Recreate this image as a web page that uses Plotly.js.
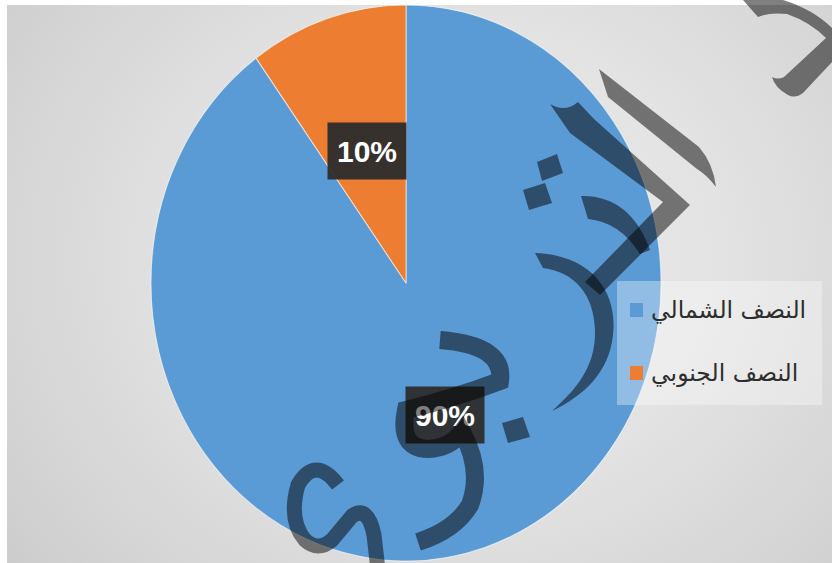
<!DOCTYPE html>
<html>
<head>
<meta charset="utf-8">
<script src="https://cdn.plot.ly/plotly-3.0.1.min.js"></script>
<style>
  html, body { margin:0; padding:0; background:#fff; }
  #wrap { position:relative; width:832px; height:563px; overflow:hidden; background:#fff; }
  #bg { position:absolute; left:7px; top:5px; width:825px; height:558px;
        background: radial-gradient(ellipse 70% 90% at 55% 45%, #ebebeb 0%, #e3e3e3 45%, #d3d3d3 85%, #cccccc 100%); }
  #chart { position:absolute; left:0; top:0; width:832px; height:563px; }
</style>
</head>
<body>
<div id="wrap"><div id="bg"></div><div id="chart"></div></div>
<script>
// ---- data ----
const categories = ['النصف الشمالي', 'النصف الجنوبي'];
const values = [90, 10];
const colors = ['#5b9bd5', '#ed7d31'];

// ---- geometry (pixels) ----
const W = 832, H = 563;
const CX = 406, CY = 283, RX = 255, RY = 278;

function px2paper(path) {
  return path.replace(/(-?\d+\.?\d*)[ ,]+(-?\d+\.?\d*)/g, function(m, a, b) {
    return (parseFloat(a) / W).toFixed(5) + ',' + (1 - parseFloat(b) / H).toFixed(5);
  });
}
function px(x) { return x / W; }
function py(y) { return 1 - y / H; }

const total = values.reduce((a, b) => a + b, 0);

// data labels at half radius along each slice's mid-angle (clockwise from 12 o'clock)
const annotations = [];
let cum = 0;
values.forEach((v, i) => {
  const mid = (cum + v / 2) / total * 2 * Math.PI;
  cum += v;
  const lx = CX + 0.5 * RX * Math.sin(mid);
  const ly = CY - 0.5 * RY * Math.cos(mid);
  annotations.push({
    x: px(lx), y: py(ly), xref: 'paper', yref: 'paper',
    text: '<b>' + Math.round(v / total * 100) + '%</b>',
    showarrow: false, xanchor: 'center', yanchor: 'middle',
    width: 62, height: 40,
    bgcolor: 'rgba(45,45,45,0.95)', borderpad: 8,
    font: { family: 'Liberation Sans Narrow, Liberation Sans, sans-serif', size: 30, color: '#ffffff' }
  });
});

// legend (drawn manually for Excel-like spacing)
const legendRows = [310, 373];
const shapes = [];
shapes.push({ type: 'rect', xref: 'paper', yref: 'paper', x0: px(617), x1: px(822), y0: py(281), y1: py(405),
  fillcolor: 'rgba(255,255,255,0.33)', line: { width: 0 }, layer: 'above' });
categories.forEach((c, i) => {
  const yc = legendRows[i];
  shapes.push({ type: 'rect', xref: 'paper', yref: 'paper', x0: px(630), x1: px(643), y0: py(yc - 7), y1: py(yc + 7),
    fillcolor: colors[i], line: { width: 0 }, layer: 'above' });
  annotations.push({ x: px(649), y: py(yc), xref: 'paper', yref: 'paper', text: c, showarrow: false,
    xanchor: 'left', yanchor: 'middle', font: { family: 'DejaVu Sans, sans-serif', size: 23.5, color: '#2e2e2e' } });
});
const nLegendShapes = shapes.length;

// watermark strokes (decorative overlay)
const wmFill = 'rgba(0,0,0,0.5)';
const filledPaths = [
  'M 743 0 L 783 0 Q 815 10 834 30 L 834 60 L 803 93 Q 795 99 788 95 Q 775 88 772 77 Q 778 80 784 77 L 826 38 Q 810 22 787 14 Q 770 12 758 17 Z',
  'M 599 69 L 699 147 Q 713 163 716 187 Q 707 175 697 169 L 608 97 Z',
  'M 550 104 Q 565 113 578 102 L 594 119 L 690 205 L 600 295 L 585 282 L 663 202 L 570 133 Z',
  'M 537 162 L 557 154 L 563 173 L 542 181 Z',
  'M 523 190 L 545 183 L 552 203 L 529 210 Z',
  'M 581 196 Q 630 195 650 250 L 640 254 Q 620 222 588 219 Z',
  'M 535 253 C 590 255 618 290 613 335 C 609 372 585 395 552 411 C 578 388 596 365 595 330 C 594 295 575 272 543 268 Z',
  'M 502 423 L 523 417 L 530 437 L 508 443 Z'
];
filledPaths.forEach(p => shapes.push({ type: 'path', xref: 'paper', yref: 'paper', path: px2paper(p),
  fillcolor: wmFill, line: { width: 0 }, layer: 'above' }));
const strokedPaths = [
  ['M 440 340 Q 505 345 500 381 Q 455 398 406 410 Q 398 448 428 449 Q 450 448 462 432 Q 483 470 470 505 Q 455 530 418 542', 18],
  ['M 338 485 Q 315 455 298 485 Q 288 520 305 540 Q 318 552 332 540 L 352 516 Q 368 505 374 535 L 378 570', 15]
];
strokedPaths.forEach(p => shapes.push({ type: 'path', xref: 'paper', yref: 'paper', path: px2paper(p[0]),
  fillcolor: 'rgba(0,0,0,0)', line: { color: wmFill, width: p[1] }, layer: 'above' }));

const trace = {
  type: 'pie',
  labels: categories,
  values: values,
  marker: { colors: colors, line: { color: 'rgba(255,255,255,0.6)', width: 1 } },
  sort: false,
  direction: 'clockwise',
  rotation: 0,
  textinfo: 'none',
  hoverinfo: 'none',
  showlegend: false,
  domain: { x: [px(CX - RX), px(CX + RX)], y: [0.02, 0.98] }
};

const layout = {
  width: W, height: H,
  margin: { l: 0, r: 0, t: 0, b: 0 },
  paper_bgcolor: 'rgba(0,0,0,0)',
  plot_bgcolor: 'rgba(0,0,0,0)',
  showlegend: false,
  annotations: annotations,
  shapes: shapes
};

Plotly.newPlot('chart', [trace], layout, { staticPlot: true, displayModeBar: false }).then(gd => {
  // stretch the pie vertically to match the elliptical pie in the reference
  const t = gd.querySelector('.pielayer .trace');
  if (t) {
    const bb = t.getBBox();
    const cx = bb.x + bb.width / 2, cy = bb.y + bb.height / 2;
    const k = RY / RX;
    t.setAttribute('transform', 'translate(' + cx + ',' + CY + ') scale(1,' + k + ') translate(' + (-cx) + ',' + (-cy) + ')');
  }
  // lift the watermark above the data labels, as in the reference
  const svgs = gd.querySelectorAll('svg.main-svg');
  if (svgs.length > 1) {
    const g = document.createElementNS('http://www.w3.org/2000/svg', 'g');
    svgs[svgs.length - 1].appendChild(g);
    gd.querySelectorAll('.layer-above .shapelayer path').forEach(p => {
      const idx = parseInt(p.getAttribute('data-index'), 10);
      if (!isNaN(idx) && idx >= nLegendShapes) g.appendChild(p);
    });
  }
});
</script>
</body>
</html>
